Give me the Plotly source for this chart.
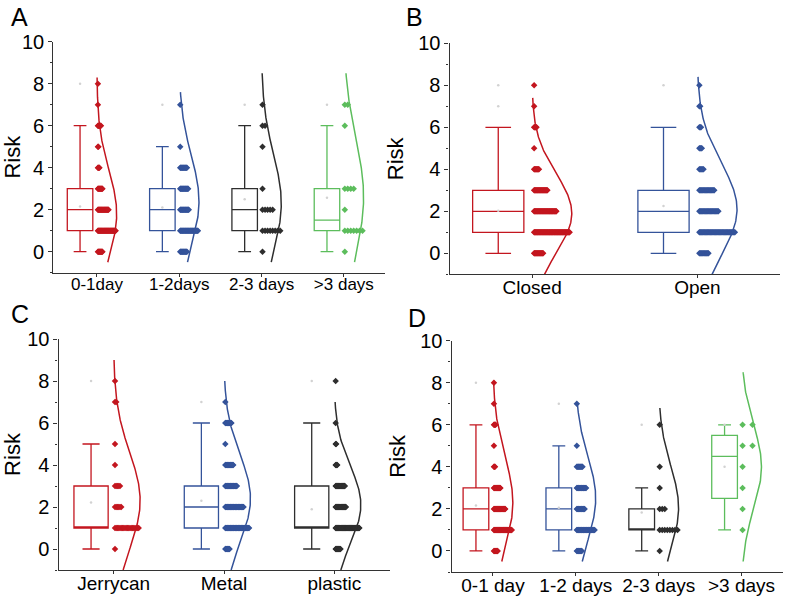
import numpy as np
import plotly.graph_objects as go


# --------------------------------------------------------
# Data
# --------------------------------------------------------

levels = [0, 1, 2, 3, 4, 5, 6, 7, 8]

# Panel A - storage duration
a_labels = ["0-1day", "1-2days", "2-3 days", ">3 days"]
a_counts = [
    [10, 36, 22, 10, 4, 2, 7, 1, 1],
    [12, 30, 15, 14, 12, 1, 0, 1, 0],
    [1, 8, 5, 1, 0, 1, 2, 1, 0],
    [1, 7, 1, 4, 0, 0, 1, 2, 0],
]
a_q1 = [1, 1, 1, 1]
a_median = [2, 2, 2, 1.5]
a_q3 = [3, 3, 3, 3]
a_low = [0, 0, 0, 0]
a_high = [6, 5, 6, 6]
a_mean = [2.15, 2.1, 2.5, 2.57]
a_max = [[8], [7], [7], [7]]
a_fit_center = [1.8, 2.4, 2.3, 2.6]
a_fit_sd = [2.1, 2.2, 2.35, 2.8]
a_fit_span = [[-0.5, 8.3], [-0.5, 7.6], [-0.5, 8.5], [-0.5, 8.5]]

# Panel B - container lid
b_labels = ["Closed", "Open"]
b_counts = [
    [16, 60, 38, 23, 9, 1, 5, 1, 1],
    [12, 44, 24, 19, 6, 4, 3, 2, 1],
]
b_q1 = [1, 1]
b_median = [2, 2]
b_q3 = [3, 3]
b_low = [0, 0]
b_high = [6, 6]
b_mean = [2.03, 2.25]
b_max = [[7, 8], [8]]
b_fit_center = [1.9, 2.1]
b_fit_sd = [1.9, 2.2]
b_fit_span = [[-1, 7.4], [-1, 8.4]]

# Panel C - container type
c_labels = ["Jerrycan", "Metal", "plastic"]
c_counts = [
    [1, 20, 6, 5, 1, 1, 0, 2, 1],
    [8, 40, 31, 20, 14, 1, 11, 1, 0],
    [10, 45, 20, 18, 4, 2, 1, 0, 1],
]
c_q1 = [1, 1, 1]
c_median = [1, 2, 1]
c_q3 = [3, 3, 3]
c_low = [0, 0, 0]
c_high = [5, 6, 6]
c_mean = [2.22, 2.3, 1.89]
c_max = [[8], [7], [8]]
c_fit_center = [2.3, 2.4, 2.1]
c_fit_sd = [2.3, 2.1, 1.85]
c_fit_span = [[-1, 9.0], [-1, 8.0], [-1, 7.0]]

# Panel D - storage duration (subset)
d_labels = ["0-1 day", "1-2 days", "2-3 days", ">3 days"]
d_counts = [
    [8, 34, 22, 13, 3, 1, 4, 1, 1],
    [8, 26, 12, 14, 9, 1, 0, 1, 0],
    [1, 8, 3, 1, 1, 0, 1, 0, 0],
    [0, 1, 1, 1, 1, 2, 2, 0, 0],
]
d_q1 = [1, 1, 1, 2.5]
d_median = [2, 2, 1, 4.5]
d_q3 = [3, 3, 2, 5.5]
d_low = [0, 0, 0, 1]
d_high = [6, 5, 3, 6]
d_mean = [2.16, 2.06, 1.83, 4.0]
d_max = [[8], [7], [6], [6]]
d_fit_center = [2.3, 2.5, 2.05, 4.0]
d_fit_sd = [2.2, 2.0, 2.0, 2.0]
d_fit_span = [[-0.5, 8.1], [-0.5, 7.0], [-0.5, 6.8], [-0.5, 8.5]]


RED = "#c3161f"
BLUE = "#34539a"
BLACK = "#2e2e2e"
GREEN = "#5cbd5c"
AXIS = "#333333"
FONT = "Liberation Sans, Arial, sans-serif"


# --------------------------------------------------------
# One panel: box + binned dots + fitted curve per group
# --------------------------------------------------------

def add_panel(fig, n, labels, counts, q1, median, q3, low, high,
              mean, maxima, fit_center, fit_sd, fit_span, colors):

    xa = "x" if n == 1 else f"x{n}"
    ya = "y" if n == 1 else f"y{n}"

    for i in range(len(labels)):

        pos = i + 1
        color = colors[i]
        box_x = pos - 0.205

        fig.add_trace(
            go.Box(
                x=[box_x],
                q1=[q1[i]],
                median=[median[i]],
                q3=[q3[i]],
                lowerfence=[low[i]],
                upperfence=[high[i]],
                width=0.31,
                whiskerwidth=0.5,
                line=dict(color=color, width=1.3),
                fillcolor="rgba(0,0,0,0)",
                boxpoints=False,
                hoverinfo="skip",
                showlegend=False,
                xaxis=xa,
                yaxis=ya
            )
        )

        # mean and max markers
        fig.add_trace(
            go.Scatter(
                x=[box_x] * (1 + len(maxima[i])),
                y=[mean[i]] + maxima[i],
                mode="markers",
                marker=dict(size=2.5, color="#d2d2d2"),
                hoverinfo="skip",
                showlegend=False,
                xaxis=xa,
                yaxis=ya
            )
        )

        # binned data points
        n_max = max(counts[i])
        step = min(0.215 / max(n_max - 1, 1), 0.12)

        xs, ys = [], []
        for lv, cnt in zip(levels, counts[i]):
            for k in range(cnt):
                xs.append(pos + 0.012 + k * step)
                ys.append(lv)

        fig.add_trace(
            go.Scatter(
                x=xs,
                y=ys,
                mode="markers",
                marker=dict(symbol="diamond", size=5, color=color,
                            line=dict(width=0)),
                hoverinfo="skip",
                showlegend=False,
                xaxis=xa,
                yaxis=ya
            )
        )

        # fitted normal distribution curve
        yy = np.linspace(fit_span[i][0], fit_span[i][1], 160)
        xx = pos + 0.24 * np.exp(-0.5 * ((yy - fit_center[i]) / fit_sd[i]) ** 2)

        fig.add_trace(
            go.Scatter(
                x=xx,
                y=yy,
                mode="lines",
                line=dict(color=color, width=1.5),
                hoverinfo="skip",
                showlegend=False,
                xaxis=xa,
                yaxis=ya
            )
        )


fig = go.Figure()

add_panel(fig, 1, a_labels, a_counts, a_q1, a_median, a_q3, a_low, a_high,
          a_mean, a_max, a_fit_center, a_fit_sd, a_fit_span,
          [RED, BLUE, BLACK, GREEN])

add_panel(fig, 2, b_labels, b_counts, b_q1, b_median, b_q3, b_low, b_high,
          b_mean, b_max, b_fit_center, b_fit_sd, b_fit_span,
          [RED, BLUE])

add_panel(fig, 3, c_labels, c_counts, c_q1, c_median, c_q3, c_low, c_high,
          c_mean, c_max, c_fit_center, c_fit_sd, c_fit_span,
          [RED, BLUE, BLACK])

add_panel(fig, 4, d_labels, d_counts, d_q1, d_median, d_q3, d_low, d_high,
          d_mean, d_max, d_fit_center, d_fit_sd, d_fit_span,
          [RED, BLUE, BLACK, GREEN])


# --------------------------------------------------------
# Axes
# --------------------------------------------------------

W, H = 790, 603


def xaxis(left, right, labels, x0, size):
    return dict(
        domain=[left / W, right / W],
        range=[x0, len(labels) + 0.5],
        tickvals=list(range(1, len(labels) + 1)),
        ticktext=labels,
        tickfont=dict(size=size, color="black"),
        ticklabelstandoff=-7,
        showline=True, linecolor=AXIS, linewidth=1.2,
        ticks="outside", ticklen=3, tickcolor=AXIS,
        showgrid=False, zeroline=False, automargin=False
    )


def yaxis(top, bottom, anchor):
    return dict(
        domain=[1 - bottom / H, 1 - top / H],
        anchor=anchor,
        range=[-1, 10],
        tickvals=[0, 2, 4, 6, 8, 10],
        tickfont=dict(size=20, color="black"),
        title=dict(text="Risk", font=dict(size=22, color="black"), standoff=8),
        showline=True, linecolor=AXIS, linewidth=1.2,
        ticks="outside", ticklen=4, tickcolor=AXIS,
        minor=dict(tick0=0, dtick=1, ticks="outside", ticklen=2, tickcolor=AXIS),
        showgrid=False, zeroline=False, automargin=False
    )


fig.update_layout(
    width=W,
    height=H,
    margin=dict(l=0, r=0, t=0, b=0),
    plot_bgcolor="white",
    paper_bgcolor="white",
    font=dict(family=FONT, color="black"),
    xaxis=dict(xaxis(53.3, 385, a_labels, 0.47, 17), anchor="y"),
    yaxis=yaxis(41.7, 272.7, "x"),
    xaxis2=dict(xaxis(449.5, 780, b_labels, 0.5, 19), anchor="y2"),
    yaxis2=yaxis(43.3, 274.3, "x2"),
    xaxis3=dict(xaxis(58.5, 389.5, c_labels, 0.5, 19), anchor="y3"),
    yaxis3=yaxis(339, 570, "x3"),
    xaxis4=dict(xaxis(451.5, 783, d_labels, 0.5, 19), anchor="y4"),
    yaxis4=yaxis(340.7, 572, "x4"),
)

# panel letters
for letter, px, py in [("A", 9, 17), ("B", 404, 17), ("C", 9, 314), ("D", 406, 318)]:
    fig.add_annotation(
        text=letter,
        x=px / W,
        y=1 - py / H,
        xref="paper",
        yref="paper",
        xanchor="left",
        yanchor="middle",
        showarrow=False,
        font=dict(size=25, color="black")
    )

# the page body has a default 8px margin; drop it so the figure fills the window
fig.write_html(
    "out.html",
    config={"displayModeBar": False},
    post_script="document.body.style.margin = '0px';"
)
